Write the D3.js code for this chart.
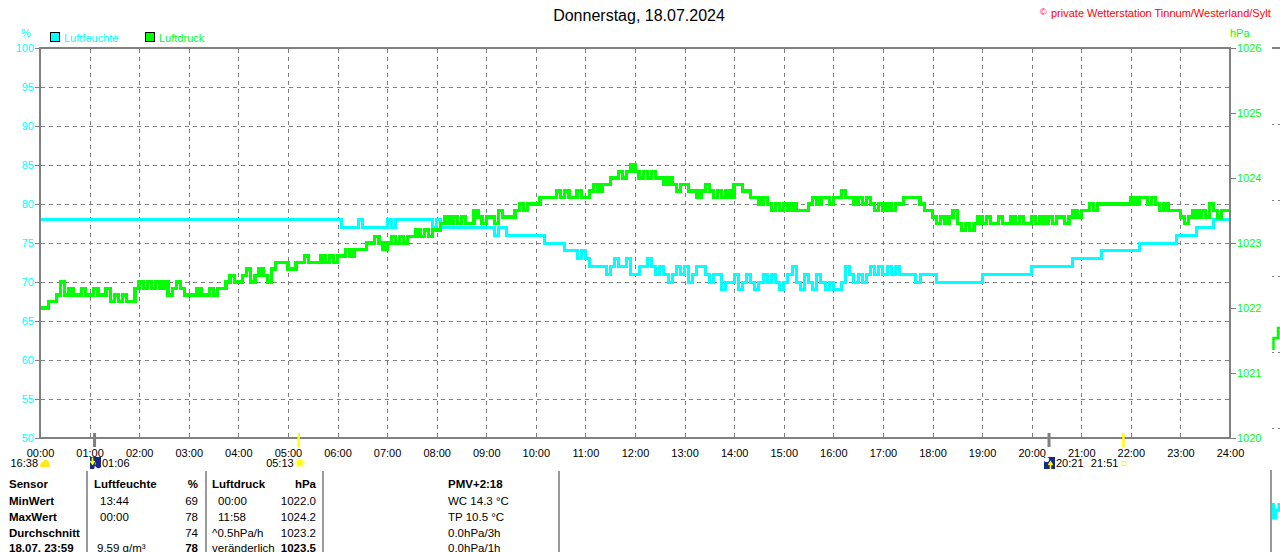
<!DOCTYPE html>
<html><head><meta charset="utf-8">
<script src="https://cdn.jsdelivr.net/npm/d3@7"></script>
<style>
body{margin:0;background:#fff;overflow:hidden}
svg{display:block}
text{font-family:"Liberation Sans",Arial,sans-serif}
</style>
</head><body>
<svg id="c" width="1280" height="552"></svg>
<script>
// ---------- data ----------
const title = "Donnerstag, 18.07.2024";
const copyright = "private Wetterstation Tinnum/Westerland/Sylt";
const seriesNames = ["Luftfeuchte", "Luftdruck"];
const hourLabels = ["00:00","01:00","02:00","03:00","04:00","05:00","06:00","07:00","08:00","09:00","10:00","11:00","12:00","13:00","14:00","15:00","16:00","17:00","18:00","19:00","20:00","21:00","22:00","23:00","24:00"];
const humTicks = [50,55,60,65,70,75,80,85,90,95,100];
const presTicks = [1020,1021,1022,1023,1024,1025,1026];
const stepMinutes = 5;

const humidity = [
78,78,78,78,78,78,78,78,78,78,78,78,
78,78,78,78,78,78,78,78,78,78,78,78,
78,78,78,78,78,78,78,78,78,78,78,78,
78,78,78,78,78,78,78,78,78,78,78,78,
78,78,78,78,78,78,78,78,78,78,78,78,
78,78,78,78,78,78,78,78,78,78,78,78,
78,77,77,77,77,78,77,77,77,77,77,77,
78,77,78,78,78,78,78,78,78,78,78,77,
78,77,77,77,77,77,77,77,77,77,77,77,
77,77,76,77,77,76,76,76,76,76,76,76,
76,76,75,75,75,75,75,74,74,74,73,74,
73,72,72,72,72,71,72,73,72,72,73,71,
71,72,72,73,72,71,72,71,70,71,72,71,
72,70,71,72,72,71,70,71,71,69,70,70,
71,69,70,71,70,69,70,71,70,71,70,69,
70,71,72,70,69,71,70,69,71,70,69,70,
69,69,70,72,71,70,71,70,71,72,71,72,
71,72,71,72,71,71,71,71,70,71,71,71,
71,70,70,70,70,70,70,70,70,70,70,70,
71,71,71,71,71,71,71,71,71,71,71,71,
72,72,72,72,72,72,72,72,72,72,73,73,
73,73,73,73,73,74,74,74,74,74,74,74,
74,74,75,75,75,75,75,75,75,75,75,76,
76,76,76,76,77,77,77,77,78,78,78,78,78
];

const pressure = [
1022.0,1022.0,1022.1,1022.1,1022.2,1022.4,1022.2,1022.3,1022.2,1022.2,1022.3,1022.2,
1022.2,1022.3,1022.2,1022.2,1022.3,1022.1,1022.2,1022.1,1022.2,1022.1,1022.1,1022.3,
1022.4,1022.3,1022.4,1022.3,1022.4,1022.3,1022.4,1022.2,1022.3,1022.4,1022.3,1022.2,
1022.2,1022.2,1022.3,1022.2,1022.2,1022.3,1022.2,1022.3,1022.3,1022.4,1022.5,1022.4,
1022.4,1022.5,1022.6,1022.4,1022.5,1022.6,1022.5,1022.4,1022.6,1022.7,1022.7,1022.7,
1022.6,1022.6,1022.7,1022.7,1022.8,1022.7,1022.7,1022.7,1022.8,1022.7,1022.8,1022.7,
1022.8,1022.8,1022.9,1022.8,1022.9,1022.9,1022.9,1023.0,1023.0,1023.1,1023.0,1022.9,
1023.0,1023.1,1023.0,1023.1,1023.0,1023.1,1023.1,1023.2,1023.1,1023.2,1023.1,1023.2,
1023.2,1023.3,1023.4,1023.3,1023.4,1023.3,1023.4,1023.3,1023.3,1023.5,1023.4,1023.3,
1023.4,1023.4,1023.3,1023.5,1023.4,1023.4,1023.4,1023.5,1023.6,1023.5,1023.6,1023.6,
1023.6,1023.7,1023.7,1023.7,1023.7,1023.8,1023.7,1023.8,1023.7,1023.7,1023.8,1023.7,
1023.7,1023.8,1023.9,1023.8,1023.9,1023.9,1024.0,1024.0,1024.1,1024.0,1024.1,1024.2,
1024.1,1024.0,1024.1,1024.0,1024.1,1024.0,1024.0,1023.9,1024.0,1023.9,1023.8,1023.9,
1023.9,1023.8,1023.8,1023.7,1023.8,1023.9,1023.8,1023.7,1023.8,1023.7,1023.8,1023.7,
1023.9,1023.9,1023.8,1023.8,1023.7,1023.7,1023.6,1023.7,1023.6,1023.5,1023.6,1023.5,
1023.6,1023.5,1023.6,1023.5,1023.5,1023.5,1023.6,1023.7,1023.6,1023.7,1023.7,1023.6,
1023.7,1023.7,1023.8,1023.7,1023.7,1023.6,1023.7,1023.6,1023.7,1023.6,1023.5,1023.6,
1023.5,1023.6,1023.5,1023.6,1023.6,1023.7,1023.7,1023.7,1023.7,1023.6,1023.5,1023.5,
1023.4,1023.3,1023.4,1023.3,1023.4,1023.5,1023.3,1023.2,1023.3,1023.2,1023.3,1023.4,
1023.3,1023.4,1023.3,1023.3,1023.4,1023.3,1023.3,1023.4,1023.3,1023.4,1023.3,1023.3,
1023.4,1023.3,1023.4,1023.3,1023.4,1023.3,1023.4,1023.4,1023.3,1023.4,1023.5,1023.4,
1023.5,1023.5,1023.6,1023.5,1023.6,1023.6,1023.6,1023.6,1023.6,1023.6,1023.6,1023.6,
1023.7,1023.6,1023.7,1023.7,1023.6,1023.7,1023.6,1023.5,1023.6,1023.5,1023.5,1023.5,
1023.4,1023.3,1023.4,1023.5,1023.4,1023.5,1023.4,1023.6,1023.5,1023.4,1023.5,1023.5,1023.5
];

// sun / moon events (hours as HH:MM)
const sunMoonEvents = [
  {time:"01:06", kind:"moonset"},
  {time:"05:13", kind:"sunrise"},
  {time:"20:21", kind:"moonrise"},
  {time:"21:51", kind:"sunset"}
];
const moonPhaseText = "16:38";

// table
const tableHeader = ["Sensor","Luftfeuchte","%","Luftdruck","hPa"];
const tableRowNames = ["MinWert","MaxWert","Durchschnitt","18.07. 23:59"];
const humTimes = ["13:44","00:00","","9.59 g/m³"];
const humValues = ["69","78","74","78"];
const presTimes = ["00:00","11:58","^0.5hPa/h","veränderlich"];
const presValues = ["1022.0","1024.2","1023.2","1023.5"];
const pmvLines = ["PMV+2:18","WC 14.3 °C","TP 10.5 °C","0.0hPa/3h","0.0hPa/1h"];

// ---------- chart ----------
const CYAN = "#00ffff", GREEN = "#00ff00", GREY = "#808080";
const svg = d3.select("#c");
const x = d3.scaleLinear().domain([0,24]).range([40,1230]);
const yH = d3.scaleLinear().domain([50,100]).range([438,48]);
const yP = d3.scaleLinear().domain([1020,1026]).range([438,48]);
const r = v => Math.round(v) + 0.5;

// title + copyright
svg.append("text").attr("x",639).attr("y",21).attr("text-anchor","middle")
  .attr("font-size",16).attr("fill","#000").text(title);
svg.append("text").attr("x",1040).attr("y",15).attr("font-size",9).attr("fill","#ff0000").text("©");
svg.append("text").attr("x",1051).attr("y",17).attr("font-size",11).attr("fill","#ff0000").text(copyright);

// units
svg.append("text").attr("x",26).attr("y",37).attr("text-anchor","middle").attr("font-size",11).attr("fill",CYAN).text("%");
svg.append("text").attr("x",1230).attr("y",37).attr("font-size",11).attr("fill",GREEN).text("hPa");

// legend
const legColors = [CYAN, GREEN];
const legX = [50, 145];
seriesNames.forEach((n,i)=>{
  svg.append("rect").attr("x",legX[i]+0.5).attr("y",32.5).attr("width",9).attr("height",9)
    .attr("fill",legColors[i]).attr("stroke","#000").attr("stroke-width",1);
  svg.append("text").attr("x",legX[i]+14).attr("y",42).attr("font-size",11).attr("fill",legColors[i]).text(n);
});

// grid
const grid = svg.append("g").attr("stroke",GREY).attr("stroke-width",1).attr("stroke-dasharray","4,4").attr("shape-rendering","crispEdges");
grid.selectAll(".h").data(humTicks.slice(1,-1)).join("line")
  .attr("x1",41).attr("x2",1229).attr("y1",d=>r(yH(d))-0.5).attr("y2",d=>r(yH(d))-0.5);
grid.selectAll(".v").data(d3.range(1,24)).join("line")
  .attr("y1",49).attr("y2",437).attr("x1",d=>r(x(d))).attr("x2",d=>r(x(d)));

// series
const t = i => i*stepMinutes/60;
const lineH = d3.line().x((d,i)=>x(t(i))).y(d=>yH(d)).curve(d3.curveStepAfter);
const lineP = d3.line().x((d,i)=>x(t(i))).y(d=>yP(d)).curve(d3.curveStepAfter);
svg.append("path").attr("d",lineH(humidity)).attr("fill","none").attr("stroke",CYAN)
  .attr("stroke-width",3).attr("stroke-linejoin","miter").attr("shape-rendering","crispEdges");
svg.append("path").attr("d",lineP(pressure)).attr("fill","none").attr("stroke",GREEN)
  .attr("stroke-width",3.4).attr("stroke-linejoin","miter").attr("shape-rendering","crispEdges");

// frame
const frame = svg.append("g").attr("stroke",GREY).attr("stroke-width",2).attr("fill","none");
frame.append("rect").attr("x",40).attr("y",48).attr("width",1190).attr("height",390);

// axes
const axL = svg.append("g").attr("transform","translate(40,0)")
  .call(d3.axisLeft(yH).tickValues(humTicks).tickSize(5).tickPadding(1).tickFormat(d3.format("d")));
axL.select(".domain").remove();
axL.selectAll("line").attr("stroke",GREY);
axL.selectAll("text").attr("fill",CYAN).attr("font-size",11).attr("font-family","Liberation Sans, Arial, sans-serif");

const axR = svg.append("g").attr("transform","translate(1230,0)")
  .call(d3.axisRight(yP).tickValues(presTicks).tickSize(6).tickPadding(1).tickFormat(d3.format("d")));
axR.select(".domain").remove();
axR.selectAll("line").attr("stroke",GREY);
axR.selectAll("text").attr("fill",GREEN).attr("font-size",11).attr("font-family","Liberation Sans, Arial, sans-serif");

const axB = svg.append("g").attr("transform","translate(0,438)")
  .call(d3.axisBottom(x).tickValues(d3.range(0,25)).tickSize(0).tickPadding(11).tickFormat(d=>hourLabels[d]));
axB.select(".domain").remove();
axB.selectAll("text").attr("fill","#000").attr("font-size",11).attr("font-family","Liberation Sans, Arial, sans-serif");

// sun / moon markers
const hm = s => { const [h,m] = s.split(":").map(Number); return h + m/60; };
sunMoonEvents.forEach(e=>{
  const ex = x(hm(e.time));
  const isMoon = e.kind.startsWith("moon");
  svg.append("line").attr("x1",ex).attr("x2",ex).attr("y1",433).attr("y2",447)
    .attr("stroke", isMoon ? GREY : "#ffff00").attr("stroke-width", isMoon ? 3 : 2.5);
  if (isMoon) {
    const g = svg.append("g").attr("transform",`translate(${Math.round(ex)-5},457)`);
    g.append("rect").attr("width",11).attr("height",12).attr("fill","#16288c");
    if (e.kind === "moonset") {
      g.append("path").attr("d","M6,5 a3.5,3.5 0 1,0 5,5 L11,12 L4,12 Z").attr("fill","#fff");
      g.append("path").attr("d","M2.5,0.5 V6 M0.5,4 L2.5,7 L4.5,4").attr("stroke","#ffff00").attr("stroke-width",1.6).attr("fill","none");
    } else {
      g.append("circle").attr("cx",2.5).attr("cy",2.5).attr("r",2.6).attr("fill","#fff");
      g.append("path").attr("d","M6.5,12 V6 M4.5,8 L6.5,5 L8.5,8").attr("stroke","#ffff00").attr("stroke-width",1.6).attr("fill","none");
    }
    svg.append("text").attr("x",Math.round(ex)+7).attr("y",467).attr("font-size",11).attr("fill","#000").text(e.time);
  } else {
    svg.append("text").attr("x",ex-5).attr("y",467).attr("text-anchor","end").attr("font-size",11).attr("fill","#000").text(e.time);
    if (e.kind === "sunrise") {
      const g = svg.append("g").attr("transform",`translate(${ex+1},463)`);
      g.append("circle").attr("r",4.8).attr("fill","#ffffb0");
      g.append("circle").attr("r",3).attr("fill","#ffff00");
      g.selectAll("line").data(d3.range(8)).join("line")
        .attr("x1",d=>Math.cos(d*Math.PI/4)*3.5).attr("y1",d=>Math.sin(d*Math.PI/4)*3.5)
        .attr("x2",d=>Math.cos(d*Math.PI/4)*5.5).attr("y2",d=>Math.sin(d*Math.PI/4)*5.5)
        .attr("stroke","#ffff40").attr("stroke-width",1);
    } else {
      svg.append("rect").attr("x",ex-1.5).attr("y",461.5).attr("width",4).attr("height",4)
        .attr("fill","none").attr("stroke","#ffff00").attr("stroke-width",1);
    }
  }
});
// moon phase / cloud icon
svg.append("text").attr("x",38).attr("y",467).attr("text-anchor","end").attr("font-size",11).attr("fill","#000").text(moonPhaseText);
svg.append("path").attr("d","M40,467 Q40,462 43,462 Q44,459 47,460 Q50,461 50,467 Z").attr("fill","#ffe820");

// table
const rowY = [488,504.5,520.5,536.5,552];
const tb = svg.append("g").attr("font-size",11.5).attr("fill","#000");
const sep = svg.append("g").attr("stroke","#9a9a9a").attr("stroke-width",2);
[87,206,323,559].forEach(sx=>sep.append("line").attr("x1",sx).attr("x2",sx).attr("y1",471).attr("y2",552));
tb.append("text").attr("x",9).attr("y",rowY[0]).attr("font-weight","bold").text(tableHeader[0]);
tb.append("text").attr("x",94).attr("y",rowY[0]).attr("font-weight","bold").text(tableHeader[1]);
tb.append("text").attr("x",198).attr("y",rowY[0]).attr("font-weight","bold").attr("text-anchor","end").text(tableHeader[2]);
tb.append("text").attr("x",212).attr("y",rowY[0]).attr("font-weight","bold").text(tableHeader[3]);
tb.append("text").attr("x",316).attr("y",rowY[0]).attr("font-weight","bold").attr("text-anchor","end").text(tableHeader[4]);
tableRowNames.forEach((n,i)=>{
  const y = rowY[i+1];
  const last = i === tableRowNames.length-1;
  tb.append("text").attr("x",9).attr("y",y).attr("font-weight","bold").text(n);
  tb.append("text").attr("x", last ? 97 : 100).attr("y",y).text(humTimes[i]);
  tb.append("text").attr("x",198).attr("y",y).attr("text-anchor","end").attr("font-weight", last?"bold":"normal").text(humValues[i]);
  tb.append("text").attr("x", (i>=2) ? 212 : 218).attr("y",y).text(presTimes[i]);
  tb.append("text").attr("x",316).attr("y",y).attr("text-anchor","end").attr("font-weight", last?"bold":"normal").text(presValues[i]);
});
pmvLines.forEach((s,i)=>{
  tb.append("text").attr("x",448).attr("y",rowY[i]).attr("font-weight", i===0?"bold":"normal").text(s);
});

// fragment of the neighbouring chart at the right edge
const nb = svg.append("g");
nb.append("line").attr("x1",1272).attr("x2",1280).attr("y1",48).attr("y2",48).attr("stroke",GREY).attr("stroke-width",2);
nb.selectAll(".d").data([124,200,276,352,428]).join("line")
  .attr("x1",1272).attr("x2",1280).attr("y1",d=>d+0.5).attr("y2",d=>d+0.5)
  .attr("stroke",GREY).attr("stroke-dasharray","2,4");
nb.append("line").attr("x1",1271).attr("x2",1271).attr("y1",470).attr("y2",552).attr("stroke","#9a9a9a").attr("stroke-width",2);
nb.append("path").attr("d","M1273.5,350 V338 H1278 V328 H1280").attr("fill","none").attr("stroke",GREEN).attr("stroke-width",2.5);
nb.append("path").attr("d","M1273.5,503 V518 H1276 V510 H1279 V503").attr("fill","none").attr("stroke",CYAN).attr("stroke-width",3);
</script>
</body></html>
